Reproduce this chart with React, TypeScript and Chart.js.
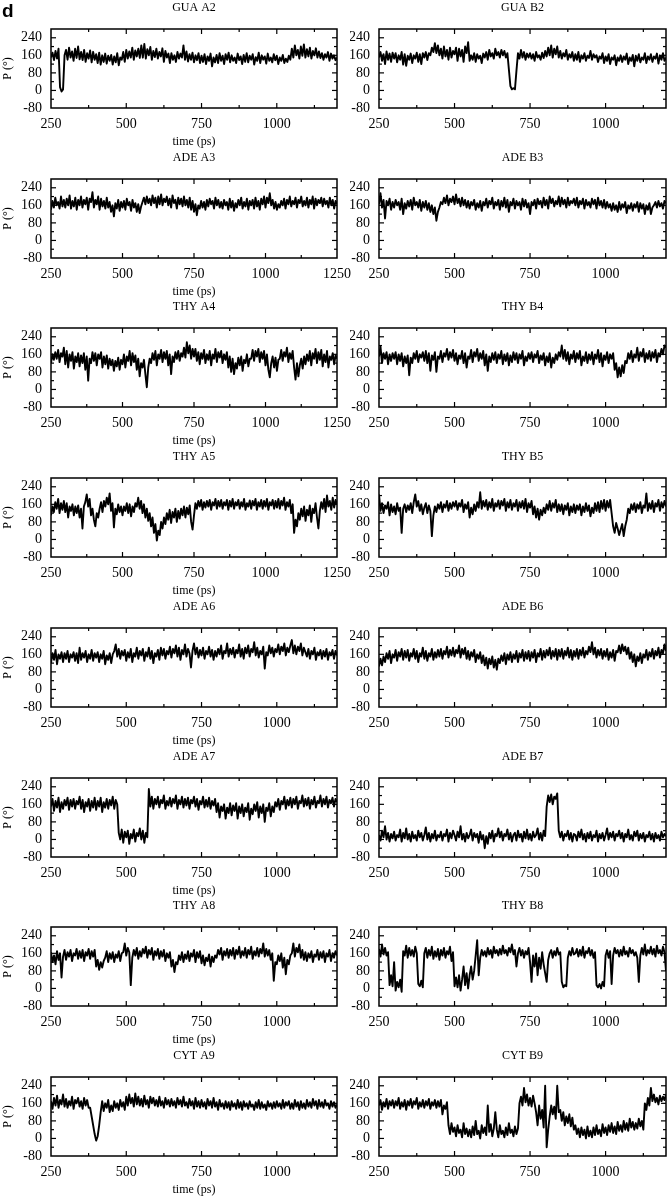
import React, { useEffect, useRef } from 'react';
import { Chart, registerables } from 'chart.js';

Chart.register(...registerables);

// ---------- sampling grid and axis ticks ----------
const T_START = 250; // ps
const T_STEP = 5; // ps between samples
const X_MAJOR = [250, 500, 750, 1000, 1250];
const X_MINOR = [375, 625, 875, 1125];
const Y_MAJOR = [-80, 0, 80, 160, 240];
const Y_MINOR = [-40, 40, 120, 200];
const Y_MIN = -80;
const Y_MAX = 280;

// ---------- series values (P, degrees), one sample per 5 ps from 250 ps ----------
const GUA_A2 = [
  150, 172, 138, 180, 145, 190, 15, -5, 5, 160,
  185, 140, 195, 150, 178, 135, 190, 148, 200, 142,
  175, 138, 185, 130, 170, 145, 182, 128, 176, 140,
  165, 125, 172, 118, 160, 130, 168, 122, 158, 135,
  162, 118, 155, 128, 170, 115, 150, 140, 175, 130,
  185, 145, 178, 150, 195, 140, 182, 155, 190, 148,
  205, 150, 212, 145, 188, 160, 198, 140, 180, 152,
  190, 145, 175, 155, 192, 130, 180, 150, 168, 125,
  170, 140, 160, 130, 175, 145, 168, 150, 205, 140,
  178, 132, 165, 140, 172, 128, 160, 138, 170, 125,
  158, 130, 165, 120, 155, 135, 168, 110, 150, 128,
  162, 125, 170, 135, 158, 120, 165, 140, 172, 128,
  160, 135, 150, 125, 168, 138, 155, 120, 162, 130,
  170, 128, 158, 140, 165, 118, 152, 135, 172, 125,
  160, 140, 155, 122, 168, 135, 150, 128, 165, 138,
  158, 120, 150, 135, 162, 125, 145, 130, 158, 140,
  190, 150, 205, 160, 185, 145, 200, 158, 210, 150,
  188, 155, 195, 145, 180, 160, 192, 150, 178, 148,
  170, 140, 165, 150, 175, 135, 168, 145, 160, 138,
  150,
];

const GUA_B2 = [
  150, 175, 135, 165, 120, 178, 140, 168, 130, 172,
  145, 170, 128, 160, 140, 175, 118, 165, 112, 158,
  140, 168, 125, 160, 145, 172, 130, 165, 120, 170,
  150, 175, 138, 170, 160, 195, 175, 215, 170, 205,
  160, 190, 145, 200, 155, 185, 140, 195, 150, 180,
  165, 195, 135, 190, 155, 185, 130, 200, 170, 220,
  135, 160, 140, 170, 130, 165, 145, 158, 125, 168,
  150, 175, 140, 185, 155, 170, 145, 190, 160, 175,
  150, 185, 160, 180, 150, 170, 95, 20, 5, 10,
  5, 90, 170, 145, 185, 150, 175, 140, 168, 150,
  170, 145, 165, 135, 175, 150, 160, 140, 172, 148,
  180, 155, 195, 160, 205, 150, 190, 165, 200, 150,
  180, 145, 170, 155, 185, 140, 165, 150, 175, 135,
  165, 140, 175, 130, 160, 145, 170, 135, 158, 148,
  180, 140, 165, 150, 160, 130, 155, 145, 170, 125,
  155, 135, 165, 120, 150, 140, 160, 115, 150, 135,
  160, 130, 155, 140, 168, 120, 150, 135, 162, 110,
  158, 135, 165, 128, 150, 140, 170, 125, 155, 140,
  165, 130, 155, 145, 168, 122, 160, 140, 170, 135,
  150,
];

const ADE_A3 = [
  140, 180, 150, 195, 160, 175, 145, 200, 155, 185,
  150, 190, 160, 205, 145, 180, 155, 195, 140, 185,
  160, 200, 150, 185, 165, 195, 140, 190, 175, 220,
  150, 185, 165, 200, 140, 190, 155, 180, 145, 195,
  150, 175, 130, 160, 110, 170, 145, 185, 135, 175,
  150, 180, 140, 190, 160, 175, 135, 185, 150, 170,
  130, 165, 125, 155, 175, 195, 165, 200, 170, 190,
  160, 205, 170, 195, 150, 200, 165, 210, 160, 190,
  175, 200, 160, 190, 150, 205, 170, 185, 145, 195,
  165, 190, 155, 200, 160, 185, 150, 195, 140, 180,
  130, 165, 115, 160, 145, 180, 150, 175, 140, 185,
  155, 190, 165, 180, 145, 195, 160, 185, 150, 175,
  145, 185, 160, 175, 140, 190, 150, 180, 135, 170,
  150, 185, 160, 195, 145, 175, 155, 190, 140, 180,
  160, 185, 145, 195, 155, 180, 140, 190, 165, 200,
  150, 195, 170, 215, 160, 185, 145, 175, 140, 165,
  150, 180, 160, 190, 145, 185, 165, 200, 155, 180,
  165, 195, 150, 185, 170, 200, 155, 180, 160, 195,
  150, 185, 165, 200, 145, 190, 160, 185, 170, 195,
  155, 190, 165, 180, 150, 195, 160, 185, 145, 180,
  165,
];

const ADE_B3 = [
  165, 215, 150, 185, 100, 180, 160, 190, 140, 175,
  150, 185, 160, 175, 140, 190, 120, 170, 145, 180,
  155, 185, 140, 195, 160, 175, 150, 185, 135, 175,
  150, 180, 140, 170, 130, 160, 120, 150, 90, 130,
  150, 175, 165, 195, 170, 205, 160, 190, 175, 200,
  165, 210, 170, 190, 155, 195, 160, 185, 150, 180,
  145, 175, 160, 185, 140, 170, 150, 180, 135, 175,
  160, 190, 150, 180, 165, 195, 145, 175, 160, 185,
  140, 180, 155, 195, 150, 185, 130, 175, 160, 190,
  145, 180, 160, 175, 140, 190, 155, 185, 150, 170,
  120, 175, 160, 185, 145, 190, 165, 180, 150, 195,
  160, 185, 145, 200, 170, 190, 155, 180, 165, 200,
  155, 195, 165, 185, 150, 195, 160, 180, 170, 190,
  160, 195, 150, 180, 165, 190, 145, 185, 160, 175,
  150, 190, 165, 185, 145, 195, 160, 180, 150, 185,
  145, 175, 150, 165, 135, 170, 140, 160, 130, 175,
  140, 165, 150, 175, 125, 160, 145, 170, 135, 165,
  150, 175, 130, 170, 145, 165, 120, 160, 140, 170,
  120, 150, 160, 175, 150, 180, 155, 170, 145, 180,
  170,
];

const THY_A4 = [
  120, 160, 135, 170, 140, 180, 125, 165, 150, 190,
  115, 175, 100, 160, 130, 170, 95, 150, 125, 165,
  105, 155, 120, 165, 90, 150, 40, 140, 120, 170,
  130, 165, 110, 160, 140, 170, 100, 150, 115, 155,
  95, 140, 110, 135, 85, 130, 105, 145, 90, 135,
  115, 160, 100, 150, 130, 175, 110, 165, 125, 155,
  90, 140, 60, 120, 100, 135, 70, 10, 100, 140,
  120, 165, 135, 175, 110, 160, 140, 180, 125, 170,
  140, 175, 110, 160, 70, 150, 125, 170, 140, 175,
  130, 165, 150, 190, 145, 215, 165, 200, 140, 185,
  150, 185, 130, 170, 115, 165, 140, 180, 120, 160,
  135, 175, 110, 160, 140, 185, 125, 170, 145, 175,
  120, 160, 135, 170, 100, 150, 80, 140, 70, 120,
  95, 145, 110, 150, 85, 135, 120, 160, 105, 140,
  140, 180, 130, 175, 150, 185, 125, 170, 140, 175,
  110, 160, 90, 55, 120, 150, 100, 145, 85, 135,
  140, 180, 130, 170, 150, 190, 125, 165, 140, 175,
  100, 45, 120, 60, 110, 140, 95, 150, 115, 160,
  130, 175, 110, 165, 140, 185, 120, 170, 135, 180,
  105, 160, 125, 175, 100, 150, 135, 165, 115, 155,
  140,
];

const THY_B4 = [
  150, 195, 120, 165, 140, 170, 115, 160, 130, 165,
  140, 170, 115, 160, 130, 165, 105, 150, 120, 155,
  65, 145, 120, 165, 140, 175, 125, 160, 145, 170,
  130, 175, 120, 165, 85, 155, 135, 170, 80, 150,
  140, 175, 125, 165, 150, 185, 135, 170, 145, 180,
  130, 165, 115, 155, 140, 175, 120, 165, 100, 150,
  140, 180, 125, 170, 150, 185, 130, 165, 140, 175,
  110, 160, 85, 150, 125, 165, 135, 170, 120, 160,
  140, 175, 115, 160, 130, 165, 110, 155, 125, 170,
  135, 165, 120, 160, 140, 175, 110, 150, 130, 165,
  140, 170, 125, 160, 145, 175, 120, 155, 135, 165,
  110, 150, 125, 165, 100, 145, 120, 160, 135, 170,
  150, 200, 140, 180, 130, 170, 115, 160, 140, 175,
  125, 165, 140, 175, 110, 150, 130, 170, 120, 160,
  135, 170, 115, 160, 140, 180, 125, 165, 105, 155,
  135, 170, 120, 160, 140, 165, 90, 120, 55, 100,
  60, 110, 75, 130, 120, 165, 140, 175, 125, 160,
  145, 190, 130, 170, 150, 185, 125, 165, 140, 175,
  130, 170, 145, 180, 125, 165, 150, 185, 160, 200,
  190,
];

const THY_A5 = [
  110, 150, 125, 170, 140, 185, 120, 165, 135, 175,
  125, 165, 100, 150, 130, 160, 110, 150, 120, 155,
  100, 140, 50, 150, 170, 205, 150, 185, 110, 140,
  90, 60, 120, 100, 140, 170, 125, 175, 150, 190,
  160, 210, 130, 165, 55, 140, 115, 160, 125, 150,
  110, 150, 130, 165, 120, 160, 105, 150, 125, 165,
  150, 190, 140, 175, 120, 160, 100, 140, 85, 120,
  60, 100, 30, 70, -5, 40, 20, 80, 50, 100,
  70, 120, 90, 135, 75, 125, 100, 140, 80, 130,
  95, 140, 110, 150, 100, 145, 115, 155, 80, 45,
  110, 165, 140, 175, 150, 180, 135, 170, 145, 175,
  150, 180, 135, 170, 155, 185, 140, 175, 150, 180,
  140, 170, 155, 180, 135, 175, 150, 185, 140, 170,
  155, 180, 140, 170, 150, 185, 135, 165, 150, 178,
  140, 175, 155, 185, 135, 170, 150, 180, 140, 175,
  150, 185, 135, 170, 155, 180, 140, 175, 145, 185,
  140, 175, 155, 190, 135, 170, 150, 180, 120, 160,
  30, 90, 60, 120, 90, 140, 105, 150, 85, 135,
  110, 155, 80, 140, 120, 165, 100, 50, 130, 170,
  140, 185, 125, 200, 150, 175, 135, 190, 145, 180,
  160,
];

const THY_B5 = [
  205, 130, 165, 120, 155, 140, 170, 110, 160, 125,
  150, 115, 165, 130, 145, 30, 140, 160, 125, 155,
  135, 165, 120, 170, 205, 150, 175, 130, 160, 115,
  145, 165, 120, 155, 130, 15, 110, 150, 125, 160,
  140, 170, 125, 160, 145, 175, 130, 165, 140, 170,
  150, 175, 135, 165, 150, 180, 125, 160, 140, 170,
  100, 145, 115, 160, 130, 170, 145, 215, 140, 175,
  150, 180, 135, 170, 145, 185, 130, 165, 150, 178,
  140, 175, 155, 185, 130, 170, 145, 180, 135, 165,
  150, 180, 130, 170, 145, 175, 140, 185, 125, 165,
  145, 175, 115, 150, 100, 140, 90, 135, 110, 145,
  120, 160, 135, 175, 130, 165, 145, 180, 125, 160,
  130, 160, 115, 155, 135, 165, 110, 150, 125, 160,
  120, 155, 135, 160, 110, 150, 125, 165, 130, 155,
  105, 145, 120, 165, 130, 170, 125, 175, 140, 180,
  130, 175, 145, 180, 120, 60, 30, 75, 50, 20,
  45, 70, 15, 60, 90, 140, 120, 160, 135, 165,
  125, 160, 140, 170, 120, 155, 145, 210, 130, 165,
  140, 175, 125, 165, 150, 180, 130, 170, 145, 175,
  150,
];

const ADE_A6 = [
  120, 165, 135, 180, 115, 160, 140, 170, 125, 165,
  140, 175, 125, 160, 145, 170, 130, 165, 120, 190,
  135, 165, 145, 175, 125, 160, 140, 180, 130, 165,
  145, 170, 125, 160, 140, 175, 115, 155, 135, 165,
  120, 160, 175, 205, 150, 185, 140, 175, 155, 180,
  130, 170, 145, 185, 125, 165, 150, 190, 140, 175,
  155, 185, 130, 170, 150, 190, 140, 175, 120, 165,
  150, 180, 135, 190, 155, 185, 140, 175, 160, 195,
  145, 185, 165, 200, 150, 190, 135, 180, 160, 205,
  150, 185, 165, 100, 175, 210, 160, 190, 145, 180,
  155, 190, 140, 175, 160, 195, 150, 180, 135, 175,
  150, 185, 160, 200, 140, 175, 165, 210, 150, 185,
  160, 190, 145, 180, 165, 205, 150, 185, 140, 190,
  165, 200, 150, 185, 170, 215, 155, 190, 145, 175,
  160, 195, 95, 170, 155, 200, 165, 190, 150, 185,
  170, 205, 160, 195, 175, 210, 155, 190, 170, 200,
  225, 165, 200, 160, 195, 175, 210, 155, 190, 170,
  150, 185, 140, 175, 160, 190, 135, 170, 155, 180,
  140, 175, 150, 185, 135, 170, 155, 180, 140, 175,
  155,
];

const ADE_B6 = [
  105, 140, 110, 150, 125, 165, 140, 175, 120, 160,
  145, 180, 130, 170, 150, 185, 135, 175, 145, 180,
  130, 165, 150, 185, 140, 175, 125, 165, 150, 190,
  140, 175, 130, 165, 150, 185, 135, 170, 145, 180,
  150, 185, 140, 175, 160, 195, 145, 180, 155, 190,
  150, 180, 165, 200, 145, 185, 160, 190, 140, 175,
  135, 170, 150, 180, 125, 160, 140, 170, 120, 155,
  110, 145, 95, 140, 115, 150, 100, 135, 90, 140,
  120, 155, 130, 165, 115, 160, 135, 170, 125, 160,
  140, 175, 125, 165, 145, 180, 130, 170, 140, 175,
  130, 170, 145, 180, 125, 165, 150, 185, 135, 175,
  145, 180, 155, 190, 140, 175, 150, 185, 135, 180,
  150, 185, 140, 175, 155, 190, 145, 180, 135, 175,
  150, 185, 140, 180, 155, 190, 145, 175, 160, 195,
  170, 215, 160, 190, 145, 180, 155, 185, 140, 175,
  150, 185, 135, 170, 145, 180, 130, 175, 170, 200,
  165, 205, 175, 195, 160, 190, 140, 170, 125, 160,
  105, 150, 130, 165, 120, 160, 145, 180, 135, 170,
  150, 185, 140, 175, 155, 190, 145, 180, 165, 205,
  175,
];

const ADE_A7 = [
  150, 185, 130, 175, 145, 190, 125, 170, 140, 180,
  155, 190, 135, 180, 150, 185, 140, 175, 160, 195,
  140, 180, 125, 170, 150, 185, 130, 175, 145, 190,
  135, 175, 150, 190, 125, 170, 145, 185, 140, 180,
  155, 195, 140, 180, 160, 30, 0, 45, -15, 35,
  10, 40, -20, 25, 5, 45, -10, 30, 15, 50,
  0, 40, -15, 30, 10, 230, 150, 195, 140, 185,
  160, 195, 145, 180, 165, 200, 140, 175, 155, 190,
  150, 185, 165, 200, 140, 180, 160, 195, 145, 185,
  155, 190, 140, 180, 165, 195, 150, 185, 135, 175,
  160, 195, 145, 180, 150, 190, 140, 175, 155, 185,
  125, 165, 100, 150, 130, 160, 95, 145, 120, 165,
  110, 155, 130, 165, 95, 150, 120, 160, 105, 145,
  125, 165, 90, 140, 115, 160, 130, 170, 100, 150,
  120, 160, 80, 145, 130, 165, 105, 150, 125, 170,
  150, 185, 135, 175, 160, 195, 140, 180, 155, 190,
  145, 185, 160, 195, 140, 175, 165, 200, 150, 185,
  155, 190, 140, 180, 160, 195, 145, 175, 165, 200,
  150, 185, 160, 195, 145, 180, 165, 190, 150, 185,
  170,
];

const ADE_B7 = [
  20, -5, 40, 10, 60, 0, 30, -10, 25, 5,
  35, -5, 20, 10, 45, -10, 30, 5, 50, 0,
  25, -10, 35, 5, 20, -5, 40, 10, 30, -5,
  20, 55, 0, 30, -10, 25, 5, 40, -5, 20,
  10, 35, -5, 25, 15, 45, -10, 30, 5, 40,
  20, -5, 35, 10, 60, 0, 25, -10, 30, 5,
  20, 45, -5, 30, 10, 25, -15, 35, 0, 20,
  -40, 15, -20, 30, 5, 40, -10, 25, 15, 50,
  10, 35, -5, 25, 15, 45, 0, 30, -10, 20,
  30, -5, 40, 10, 25, -10, 35, 5, 45, 0,
  25, -5, 35, 10, 20, 50, 0, 30, -5, 40,
  15, 150, 200, 170, 205, 160, 195, 185, 210, 40,
  10, 35, -5, 25, 15, 40, 0, 30, -10, 25,
  20, -5, 35, 10, 45, 0, 25, -10, 30, 5,
  35, -5, 20, 10, 40, -10, 25, 5, 30, -5,
  20, 50, 0, 30, 10, 35, -5, 25, 15, 40,
  5, 30, -10, 25, 10, 45, 0, 20, -5, 35,
  15, 40, -5, 25, 5, 30, -10, 20, 10, 35,
  0, 25, -10, 30, 5, 20, -5, 35, 10, 25,
  15,
];

const THY_A8 = [
  165, 120, 150, 110, 170, 130, 160, 50, 145, 175,
  130, 165, 145, 175, 125, 160, 150, 180, 135, 170,
  140, 175, 125, 165, 150, 180, 135, 170, 145, 175,
  100, 130, 85, 120, 95, 125, 140, 170, 120, 160,
  135, 165, 120, 155, 140, 170, 125, 160, 165, 205,
  150, 185, 165, 15, 140, 175, 150, 185, 135, 170,
  145, 180, 160, 190, 140, 175, 155, 185, 130, 170,
  150, 180, 135, 170, 145, 175, 125, 160, 140, 165,
  100, 130, 75, 120, 110, 150, 130, 165, 120, 155,
  135, 170, 125, 160, 145, 175, 120, 165, 140, 170,
  115, 150, 105, 140, 125, 155, 100, 145, 120, 150,
  140, 175, 155, 185, 130, 170, 150, 180, 140, 175,
  150, 185, 135, 175, 155, 190, 140, 170, 150, 185,
  140, 175, 155, 190, 135, 170, 150, 185, 145, 180,
  160, 205, 145, 180, 150, 175, 130, 160, 35, 120,
  110, 150, 125, 160, 95, 140, 65, 130, 110, 150,
  160, 205, 145, 185, 165, 200, 140, 175, 130, 165,
  125, 160, 140, 170, 120, 155, 145, 175, 130, 165,
  140, 170, 120, 160, 145, 175, 125, 160, 140, 170,
  150,
];

const THY_B8 = [
  180, 145, 200, 155, 185, 150, 165, 15, 60, 10,
  120, -10, 30, 5, 40, -15, 170, 150, 195, 140,
  185, 150, 175, 145, 190, 160, 20, 10, 35, 5,
  160, 185, 140, 175, 150, 190, 135, 170, 145, 180,
  130, 175, 150, 185, 140, 170, 155, 190, 125, 165,
  10, 50, 5, 60, -10, 40, 100, 15, 70, 0,
  60, 100, 40, 80, 150, 220, 60, 140, 175, 150,
  170, 145, 185, 155, 175, 140, 190, 160, 175, 150,
  180, 155, 195, 160, 175, 150, 185, 165, 200, 155,
  175, 100, 160, 185, 150, 175, 140, 170, 155, 185,
  120, 30, 150, 100, 160, 60, 140, 90, 165, 110,
  70, 30, 130, 160, 175, 140, 170, 150, 185, 155,
  165, 30, 5, 15, 10, 140, 170, 150, 185, 155,
  160, 180, 145, 175, 150, 190, 140, 170, 160, 185,
  150, 175, 140, 165, 15, 5, 20, 0, 30, 10,
  150, 175, 140, 170, 20, 150, 185, 160, 175, 145,
  175, 150, 190, 155, 170, 145, 185, 160, 175, 150,
  165, 140, 30, 150, 185, 155, 200, 150, 175, 160,
  190, 155, 180, 145, 195, 160, 175, 150, 190, 165,
  80,
];

const CYT_A9 = [
  170, 135, 185, 150, 195, 140, 175, 155, 200, 145,
  180, 140, 170, 150, 190, 135, 175, 160, 185, 145,
  170, 135, 185, 150, 175, 140, 140, 100, 60, 20,
  -10, 10, 60, 120, 170, 125, 160, 140, 175, 120,
  150, 125, 170, 140, 160, 130, 175, 145, 165, 130,
  190, 150, 200, 160, 185, 145, 205, 155, 190, 150,
  180, 145, 195, 155, 175, 140, 190, 160, 185, 150,
  175, 145, 190, 150, 170, 140, 185, 155, 175, 145,
  180, 150, 170, 140, 185, 155, 175, 145, 190, 150,
  165, 140, 180, 150, 170, 135, 185, 145, 170, 140,
  175, 145, 165, 135, 180, 150, 170, 140, 185, 145,
  165, 130, 175, 145, 160, 135, 170, 140, 165, 130,
  170, 145, 160, 135, 175, 140, 165, 130, 170, 145,
  160, 135, 170, 145, 155, 130, 165, 140, 175, 135,
  165, 140, 155, 130, 170, 145, 160, 135, 165, 140,
  170, 145, 160, 135, 175, 140, 165, 150, 170, 135,
  160, 135, 175, 145, 165, 130, 170, 140, 160, 135,
  175, 145, 165, 140, 180, 150, 170, 135, 175, 145,
  165, 140, 175, 150, 160, 135, 170, 145, 165, 140,
  155,
];

const CYT_B9 = [
  150, 175, 130, 165, 145, 180, 135, 170, 150, 175,
  140, 170, 150, 185, 135, 165, 145, 175, 130, 170,
  150, 180, 140, 170, 155, 185, 135, 165, 145, 175,
  140, 170, 150, 180, 135, 165, 150, 175, 140, 170,
  145, 175, 110, 150, 135, 165, 60, 20, 70, 30,
  50, 10, 60, 25, 40, 5, 70, 20, 45, 10,
  40, 5, 55, 15, 80, 20, 35, 0, 60, 25,
  50, 15, 150, 30, 65, 10, 45, 120, 40, 5,
  60, 20, 35, 5, 50, 15, 70, 25, 40, 10,
  55, 20, 45, 160, 190, 150, 230, 165, 200, 150,
  185, 145, 195, 160, 120, 60, 150, 90, 130, 50,
  240, -40, 40, 100, 150, 110, 145, 90, 240, 120,
  130, 80, 120, 60, 100, 70, 110, 55, 95, 40,
  60, 20, 45, 5, 50, 15, 40, 0, 55, 10,
  35, 5, 50, 15, 60, 20, 40, 10, 65, 25,
  50, 15, 60, 30, 70, 25, 55, 20, 75, 35,
  60, 30, 80, 40, 70, 35, 90, 50, 75, 40,
  70, 45, 90, 55, 80, 40, 160, 130, 185, 150,
  230, 170, 200, 165, 185, 155, 195, 170, 190, 175,
  200,
];

// ---------- panel list ----------
const PANELS = [
  { title: 'GUA A2', values: GUA_A2, xMax: 1200, row: 0, col: 0 },
  { title: 'GUA B2', values: GUA_B2, xMax: 1200, row: 0, col: 1 },
  { title: 'ADE A3', values: ADE_A3, xMax: 1250, row: 1, col: 0 },
  { title: 'ADE B3', values: ADE_B3, xMax: 1200, row: 1, col: 1 },
  { title: 'THY A4', values: THY_A4, xMax: 1250, row: 2, col: 0 },
  { title: 'THY B4', values: THY_B4, xMax: 1200, row: 2, col: 1 },
  { title: 'THY A5', values: THY_A5, xMax: 1250, row: 3, col: 0 },
  { title: 'THY B5', values: THY_B5, xMax: 1200, row: 3, col: 1 },
  { title: 'ADE A6', values: ADE_A6, xMax: 1200, row: 4, col: 0 },
  { title: 'ADE B6', values: ADE_B6, xMax: 1200, row: 4, col: 1 },
  { title: 'ADE A7', values: ADE_A7, xMax: 1200, row: 5, col: 0 },
  { title: 'ADE B7', values: ADE_B7, xMax: 1200, row: 5, col: 1 },
  { title: 'THY A8', values: THY_A8, xMax: 1200, row: 6, col: 0 },
  { title: 'THY B8', values: THY_B8, xMax: 1200, row: 6, col: 1 },
  { title: 'CYT A9', values: CYT_A9, xMax: 1200, row: 7, col: 0 },
  { title: 'CYT B9', values: CYT_B9, xMax: 1200, row: 7, col: 1 },
];

// ---------- layout ----------
const FIG_W = 670;
const FIG_H = 1200;
const ROW_PITCH = 149.7;
const CANVAS_H = 150;
const PLOT_TOP = 29;
const PLOT_BOTTOM = 108;
const COLS = [
  { left: 51, right: 337, axisW: 51 },
  { left: 379, right: 666, axisW: 29 },
];
const SERIF = '"Liberation Serif", "Times New Roman", serif';

function framePlugin(p: any) {
  return {
    id: 'gnuFrame',
    afterDraw(chart: any) {
      const { ctx, chartArea: a, scales } = chart;
      const x = scales.x;
      const y = scales.y;
      ctx.save();
      ctx.strokeStyle = '#000';
      ctx.lineWidth = 1.5;
      ctx.strokeRect(a.left, a.top, a.right - a.left, a.bottom - a.top);
      ctx.lineWidth = 1.2;
      const seg = (x1: number, y1: number, x2: number, y2: number) => {
        ctx.beginPath();
        ctx.moveTo(x1, y1);
        ctx.lineTo(x2, y2);
        ctx.stroke();
      };
      const xt = (vals: number[], len: number) =>
        vals
          .filter((v) => v > T_START && v < p.xMax)
          .forEach((v) => {
            const px = x.getPixelForValue(v);
            seg(px, a.bottom, px, a.bottom - len);
            seg(px, a.top, px, a.top + len);
          });
      const yt = (vals: number[], len: number) =>
        vals
          .filter((v) => v > Y_MIN && v < Y_MAX)
          .forEach((v) => {
            const py = y.getPixelForValue(v);
            seg(a.left, py, a.left + len, py);
            seg(a.right, py, a.right - len, py);
          });
      xt(X_MAJOR, 5);
      xt(X_MINOR, 3);
      yt(Y_MAJOR, 5);
      yt(Y_MINOR, 3);

      const cx = (a.left + a.right) / 2;
      const cy = (a.top + a.bottom) / 2;
      ctx.fillStyle = '#000';
      ctx.textAlign = 'center';
      ctx.textBaseline = 'middle';
      ctx.font = '12px ' + SERIF;
      ctx.fillText(p.title, cx, a.top - 21.5);
      if (p.col === 0) {
        ctx.fillText('time (ps)', cx, a.bottom + 34);
        ctx.save();
        ctx.translate(8, cy);
        ctx.rotate(-Math.PI / 2);
        ctx.fillText('P (\u00b0)', 0, 0);
        ctx.restore();
      }
      if (p.row === 0 && p.col === 0) {
        ctx.font = 'bold 19px "Liberation Sans", Arial, sans-serif';
        ctx.textAlign = 'left';
        ctx.textBaseline = 'alphabetic';
        ctx.fillText('d', 2, 17);
      }
      ctx.restore();
    },
  };
}

function Panel({ p }: { p: any }) {
  const ref = useRef<HTMLCanvasElement | null>(null);
  useEffect(() => {
    if (!ref.current) return;
    const col = COLS[p.col];
    const tickFont = { family: SERIF, size: 14 };
    const chart = new Chart(ref.current, {
      type: 'line',
      data: {
        datasets: [
          {
            data: p.values.map((v: number, i: number) => ({ x: T_START + i * T_STEP, y: v })),
            borderColor: '#000',
            borderWidth: 1.9,
            borderJoinStyle: 'round',
            pointRadius: 0,
            tension: 0,
            fill: false,
          },
        ],
      },
      options: {
        animation: false,
        responsive: false,
        events: [],
        layout: {
          padding: {
            left: col.left - col.axisW,
            right: FIG_W - col.right,
            top: PLOT_TOP,
            bottom: 0,
          },
        },
        plugins: {
          legend: { display: false },
          title: { display: false },
          tooltip: { enabled: false },
        },
        scales: {
          x: {
            type: 'linear',
            min: T_START,
            max: p.xMax,
            grid: { display: false, drawTicks: false },
            border: { display: false },
            afterBuildTicks: (s: any) => {
              s.ticks = X_MAJOR.filter((v) => v <= p.xMax).map((v) => ({ value: v }));
            },
            afterFit: (s: any) => {
              s.height = CANVAS_H - PLOT_BOTTOM;
            },
            ticks: {
              font: tickFont,
              color: '#000',
              padding: 8,
              maxRotation: 0,
              autoSkip: false,
              callback: (v: any) => String(v),
            },
          },
          y: {
            type: 'linear',
            min: Y_MIN,
            max: Y_MAX,
            grid: { display: false, drawTicks: false },
            border: { display: false },
            afterBuildTicks: (s: any) => {
              s.ticks = Y_MAJOR.map((v) => ({ value: v }));
            },
            afterFit: (s: any) => {
              s.width = col.axisW;
            },
            ticks: {
              font: tickFont,
              color: '#000',
              padding: 9,
              autoSkip: false,
              callback: (v: any) => String(v),
            },
          },
        },
      },
      plugins: [framePlugin(p)],
    } as any);
    return () => chart.destroy();
  }, [p]);
  return (
    <canvas
      ref={ref}
      width={FIG_W}
      height={CANVAS_H}
      style={{ position: 'absolute', left: 0, top: Math.round(p.row * ROW_PITCH), width: FIG_W, height: CANVAS_H }}
    />
  );
}

export default function App() {
  return (
    <div
      style={{
        position: 'absolute',
        left: 0,
        top: 0,
        width: FIG_W,
        height: FIG_H,
        background: '#fff',
        overflow: 'hidden',
      }}
    >
      {PANELS.map((p) => (
        <Panel key={p.title} p={p} />
      ))}
    </div>
  );
}
